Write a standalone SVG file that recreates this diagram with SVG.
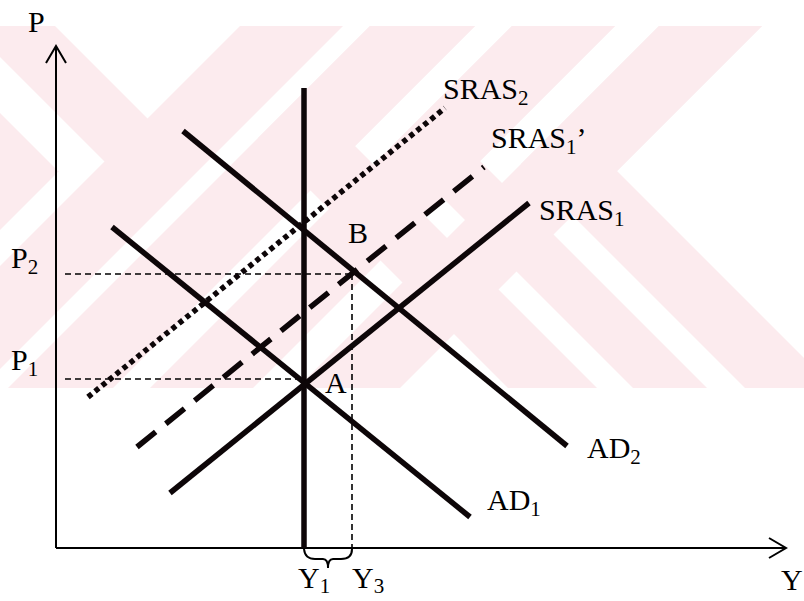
<svg xmlns="http://www.w3.org/2000/svg" width="804" height="601" viewBox="0 0 804 601">
<style>
.wm{fill:#fcebee;stroke:none}
.axis{stroke:#000;stroke-width:2;fill:none}
.thick{stroke:#0d0608;stroke-width:5.5;fill:none;stroke-linecap:butt}
.guide{stroke:#000;stroke-width:1.6;fill:none;stroke-dasharray:6 4}
.lbl{font-family:"Liberation Serif","Times New Roman",serif;font-size:30px;fill:#000}
.sub{font-size:21px}
</style>
<defs>
<clipPath id="band"><rect x="0" y="26" width="804" height="362"/></clipPath>
</defs>
<g id="watermark" clip-path="url(#band)">
<polygon class="wm" points="788,0 617,171 866,420 777,420 521,164 685,0"/>
<polygon class="wm" points="641,0 480,161 739,420 665,420 391.5,146.5 538,0"/>
<polygon class="wm" points="501,0 355,146 629,420 540,420 258,138 396,0"/>
<polygon class="wm" points="788,0 368,420 265,420 685,0"/>
<polygon class="wm" points="641,0 221,420 118,420 538,0"/>
<polygon class="wm" points="501,0 81,420 -24,420 396,0"/>
<polygon class="wm" points="369,0 -51,420 -154,420 266,0"/>
<polygon class="wm" points="59,171 -44,171 -293,420 -190,420"/>
<polygon class="wm" points="29,0 199,170 113,170 -57,0"/>
<polygon class="wm" points="-113,0 58,171 -28,171 -199,0"/>
</g>
<g id="axes">
<line class="axis" x1="56" y1="548" x2="56" y2="46"/>
<polyline class="axis" points="46,63 56,46 66,63"/>
<line class="axis" x1="56" y1="548" x2="785" y2="548"/>
<polyline class="axis" points="769,538 786,548 769,558"/>
</g>
<g id="connectors">
<line class="guide" x1="65" y1="274" x2="352" y2="274"/>
<line class="guide" x1="65" y1="379" x2="304" y2="379"/>
<line class="guide" x1="352" y1="274" x2="352" y2="548"/>
<path class="axis" d="M304,549 Q305,559 315,559 L323,559 Q328,559 328,568 Q328,559 333,559 L341,559 Q352,559 352,549"/>
</g>
<g id="LRAS"><line class="thick" x1="304" y1="88" x2="304" y2="548"/></g>
<g id="AD1"><line class="thick" x1="112" y1="227" x2="470" y2="517"/></g>
<g id="AD2"><line class="thick" x1="183" y1="131" x2="567" y2="446"/></g>
<g id="SRAS1"><line class="thick" x1="170" y1="493" x2="529" y2="203"/></g>
<g id="SRAS1p"><line class="thick" x1="137" y1="447" x2="484" y2="167" stroke-dasharray="24 13"/></g>
<g id="SRAS2"><line class="thick" x1="88" y1="397" x2="445" y2="108" stroke-dasharray="5 4"/></g>
<g id="labels">
<text class="lbl" x="28" y="32">P</text>
<text class="lbl" x="781" y="590">Y</text>
<text class="lbl" x="11" y="268">P<tspan class="sub" dy="6">2</tspan></text>
<text class="lbl" x="11" y="370">P<tspan class="sub" dy="6">1</tspan></text>
<text class="lbl" x="298" y="588">Y<tspan class="sub" dy="5">1</tspan></text>
<text class="lbl" x="352" y="588">Y<tspan class="sub" dy="5">3</tspan></text>
<text class="lbl" x="348" y="243">B</text>
<text class="lbl" x="325" y="393">A</text>
<text class="lbl" x="443" y="99">SRAS<tspan class="sub" dy="6">2</tspan></text>
<text class="lbl" x="491" y="148">SRAS<tspan class="sub" dy="6">1</tspan><tspan dy="-6">’</tspan></text>
<text class="lbl" x="539" y="220">SRAS<tspan class="sub" dy="6">1</tspan></text>
<text class="lbl" x="587" y="458">AD<tspan class="sub" dy="6">2</tspan></text>
<text class="lbl" x="487" y="510">AD<tspan class="sub" dy="6">1</tspan></text>
</g>
</svg>
